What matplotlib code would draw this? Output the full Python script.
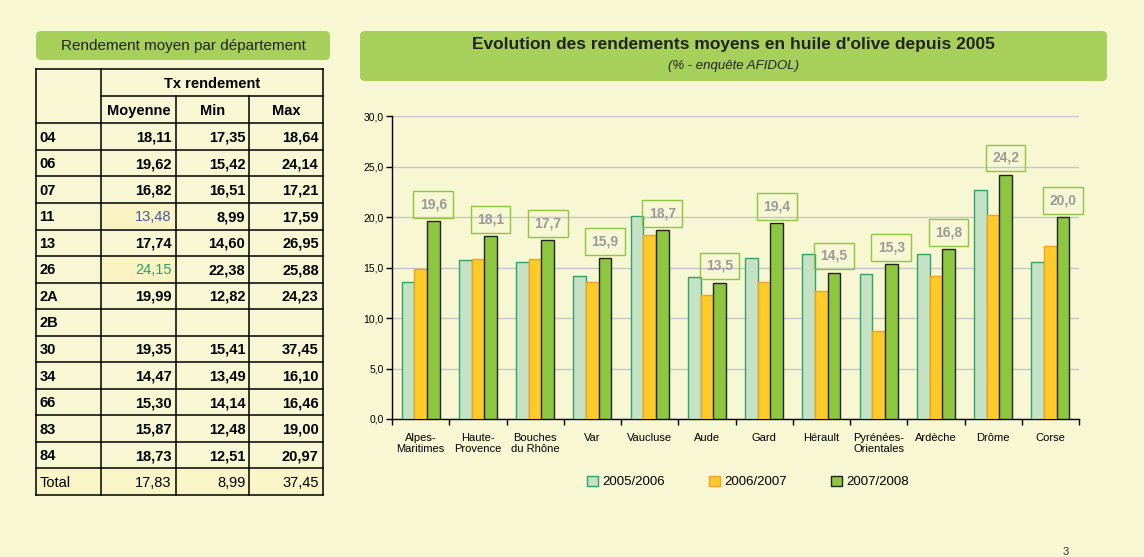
import matplotlib
matplotlib.use("Agg")
import matplotlib.pyplot as plt
from matplotlib.patches import FancyBboxPatch, Rectangle, Patch

plt.rcParams['font.family'] = ['Liberation Sans', 'DejaVu Sans']

# %%
# chart data
regions = ["Alpes-\nMaritimes", "Haute-\nProvence", "Bouches\ndu Rhône", "Var", "Vaucluse", "Aude",
           "Gard", "Hérault", "Pyrénées-\nOrientales", "Ardèche", "Drôme", "Corse"]
y2005 = [13.6, 15.7, 15.5, 14.2, 20.1, 14.1, 15.9, 16.3, 14.4, 16.3, 22.7, 15.5]
y2006 = [14.9, 15.8, 15.8, 13.6, 18.2, 12.3, 13.6, 12.7, 8.7, 14.2, 20.2, 17.1]
y2007 = [19.6, 18.1, 17.7, 15.9, 18.7, 13.5, 19.4, 14.5, 15.3, 16.8, 24.2, 20.0]
seasons = ["2005/2006", "2006/2007", "2007/2008"]

# table data
depts = ["04", "06", "07", "11", "13", "26", "2A", "2B", "30", "34", "66", "83", "84", "Total"]
moyenne = ["18,11", "19,62", "16,82", "13,48", "17,74", "24,15", "19,99", "", "19,35", "14,47", "15,30", "15,87", "18,73", "17,83"]
mini = ["17,35", "15,42", "16,51", "8,99", "14,60", "22,38", "12,82", "", "15,41", "13,49", "14,14", "12,48", "12,51", "8,99"]
maxi = ["18,64", "24,14", "17,21", "17,59", "26,95", "25,88", "24,23", "", "37,45", "16,10", "16,46", "19,00", "20,97", "37,45"]

bg = '#f7f7d4'
fills = ['#c5e3c4', '#ffcb29', '#8dc63f']
edges = ['#2ea36c', '#f5a023', '#222222']

fig = plt.figure(figsize=(11.44, 5.57), dpi=100, facecolor=bg)

# background axes in pixel coordinates for boxes and table
ax_bg = fig.add_axes([0, 0, 1, 1])
ax_bg.set_xlim(0, 1144)
ax_bg.set_ylim(557, 0)
ax_bg.axis('off')

# title boxes
ax_bg.add_patch(FancyBboxPatch((36, 31), 294, 29, boxstyle="round,pad=0,rounding_size=5",
                               fc='#a6d05a', ec='none'))
ax_bg.text(183, 46, "Rendement moyen par département", ha='center', va='center', fontsize=11, color='#222222')
ax_bg.add_patch(FancyBboxPatch((360, 31), 747, 50, boxstyle="round,pad=0,rounding_size=5",
                               fc='#a6d05a', ec='none'))
ax_bg.text(733, 45, "Evolution des rendements moyens en huile d'olive depuis 2005", ha='center', va='center',
           fontsize=12.5, fontweight='bold', color='#222222')
ax_bg.text(733, 66, "(% - enquête AFIDOL)", ha='center', va='center', fontsize=9.5, style='italic', color='#222222')

# table
cols = [35.5, 101.3, 175.7, 249.3, 322.7]
top = 69.3
hdr = 96
y0 = 123.3
rh = 26.55
bottom = y0 + rh * len(depts)

# highlighted cells
ax_bg.add_patch(Rectangle((cols[1], y0 + 3 * rh), cols[2] - cols[1], rh, fc='#f8f3c0', ec='none'))
ax_bg.add_patch(Rectangle((cols[1], y0 + 5 * rh), cols[2] - cols[1], rh, fc='#f8f3c0', ec='none'))
ax_bg.add_patch(Rectangle((cols[0], y0 + 13 * rh), cols[4] - cols[0], rh, fc='#f9f5c6', ec='none'))

lw = 1.1
ax_bg.plot([cols[0], cols[4]], [top, top], color='black', lw=lw)
ax_bg.plot([cols[1], cols[4]], [hdr, hdr], color='black', lw=lw)
for i in range(len(depts) + 1):
    yy = y0 + i * rh
    ax_bg.plot([cols[0], cols[4]], [yy, yy], color='black', lw=lw)
ax_bg.plot([cols[0], cols[0]], [top, bottom], color='black', lw=lw)
ax_bg.plot([cols[1], cols[1]], [top, bottom], color='black', lw=lw)
ax_bg.plot([cols[2], cols[2]], [hdr, bottom], color='black', lw=lw)
ax_bg.plot([cols[3], cols[3]], [hdr, bottom], color='black', lw=lw)
ax_bg.plot([cols[4], cols[4]], [top, bottom], color='black', lw=lw)

ax_bg.text((cols[1] + cols[4]) / 2, (top + hdr) / 2 + 1, "Tx rendement", ha='center', va='center',
           fontsize=10.5, fontweight='bold')
for j, name in enumerate(["Moyenne", "Min", "Max"]):
    ax_bg.text((cols[j + 1] + cols[j + 2]) / 2, (hdr + y0) / 2 + 1, name, ha='center', va='center',
               fontsize=10.5, fontweight='bold')

for i, d in enumerate(depts):
    yc = y0 + (i + 0.5) * rh + 1
    total = d == "Total"
    ax_bg.text(cols[0] + 4, yc, d, ha='left', va='center', fontsize=10.5,
               fontweight='normal' if total else 'bold')
    for j, vals in enumerate([moyenne, mini, maxi]):
        color = 'black'
        weight = 'normal' if total else 'bold'
        if j == 0 and d == "11":
            color, weight = '#4a5aa8', 'normal'
        if j == 0 and d == "26":
            color, weight = '#2e9e6e', 'normal'
        ax_bg.text(cols[j + 2] - 4, yc, vals[i], ha='right', va='center', fontsize=10.5,
                   color=color, fontweight=weight)

# page number at the bottom edge (mostly cut off in the original)
ax_bg.text(1066, 557, "3", ha='center', va='bottom', fontsize=8, color='#333333')

# %%
# bar chart
ax = fig.add_axes([392 / 1144, (557 - 419) / 557, (1079 - 392) / 1144, (419 - 116) / 557])
ax.set_facecolor('none')

w = 0.22
x = [i + 0.5 for i in range(len(regions))]
for k, vals in enumerate([y2005, y2006, y2007]):
    ax.bar([xi + (k - 1) * w for xi in x], vals, width=w, color=fills[k], edgecolor=edges[k],
           linewidth=1.0, zorder=3, label=seasons[k])

for xi, v in zip(x, y2007):
    ax.annotate(f"{v:.1f}".replace('.', ','), xy=(xi + w, v), xytext=(0, 7), textcoords='offset points',
                ha='center', va='bottom', fontsize=10, fontweight='bold', color='#9a9a9a', zorder=5,
                bbox=dict(boxstyle='square,pad=0.45', fc='none', ec='#8dc63f', lw=1.0))

ax.set_xlim(0, len(regions))
ax.set_ylim(0, 30)
ax.set_yticks([0, 5, 10, 15, 20, 25, 30])
ax.set_yticklabels([f"{t:.1f}".replace('.', ',') for t in [0, 5, 10, 15, 20, 25, 30]], fontsize=7.5)
ax.set_xticks(x)
ax.set_xticklabels(regions, fontsize=8, linespacing=1.2)
ax.set_xticks(range(len(regions) + 1), minor=True)
ax.tick_params(axis='x', which='major', length=0, pad=10)
ax.tick_params(axis='x', which='minor', length=4, width=1, direction='out')
ax.tick_params(axis='y', length=4, width=1, direction='out', pad=2)
ax.grid(axis='y', color='#c4c4cc', lw=1, zorder=0)
ax.spines['top'].set_visible(False)
ax.spines['right'].set_visible(False)
ax.spines['left'].set_linewidth(1)
ax.spines['bottom'].set_linewidth(1)

handles = [Patch(facecolor=fills[k], edgecolor=edges[k], label=seasons[k]) for k in range(3)]
fig.legend(handles=handles, loc='center', bbox_to_anchor=(748 / 1144, 1 - 482 / 557), ncol=3,
           frameon=False, fontsize=9.5, handlelength=0.8, handleheight=0.8, handletextpad=0.3,
           columnspacing=3.4)

fig.savefig("out.png", dpi=100, facecolor=bg)
